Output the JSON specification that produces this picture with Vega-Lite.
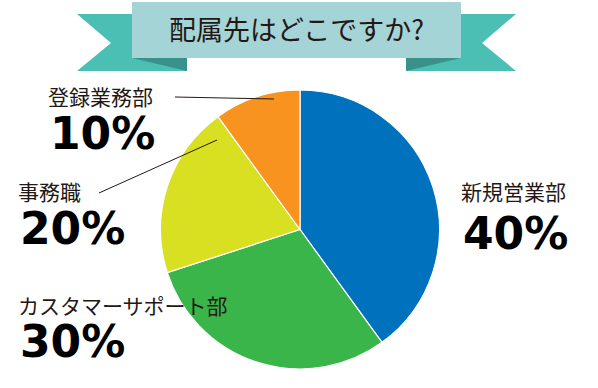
{
  "$schema": "https://vega.github.io/schema/vega-lite/v6.json",
  "width": 600,
  "height": 317,
  "autosize": {"type": "none"},
  "padding": {"top": 71, "left": 0, "right": 0, "bottom": 0},
  "background": "white",
  "config": {"view": {"stroke": null}},
  "datasets": {
    "slices": [
      {"name": "新規営業部", "value": 40},
      {"name": "カスタマーサポート部", "value": 30},
      {"name": "事務職", "value": 20},
      {"name": "登録業務部", "value": 10}
    ],
    "ribbon": [
      {"part": "tail", "side": "L", "y": 14, "x": 77, "x2": 187},
      {"part": "tail", "side": "L", "y": 43, "x": 111, "x2": 187},
      {"part": "tail", "side": "L", "y": 71, "x": 77, "x2": 187},
      {"part": "tail", "side": "R", "y": 14, "x": 406, "x2": 516},
      {"part": "tail", "side": "R", "y": 43, "x": 406, "x2": 482},
      {"part": "tail", "side": "R", "y": 71, "x": 406, "x2": 516},
      {"part": "fold", "side": "L", "y": 58, "x": 132, "x2": 187},
      {"part": "fold", "side": "L", "y": 71, "x": 187, "x2": 187},
      {"part": "fold", "side": "R", "y": 58, "x": 406, "x2": 461},
      {"part": "fold", "side": "R", "y": 71, "x": 406, "x2": 406}
    ],
    "band": [
      {"x": 132, "x2": 461, "y": 2, "y2": 58, "title": "配属先はどこですか?", "tx": 296.5, "ty": 40}
    ],
    "leaders": [
      {"x": 175, "y": 97, "x2": 274, "y2": 99},
      {"x": 99, "y": 193, "x2": 217, "y2": 140}
    ],
    "labels": [
      {"name": "登録業務部", "pct": "10%", "x": 48, "ny": 105, "py": 149},
      {"name": "事務職", "pct": "20%", "x": 18, "ny": 200, "py": 244},
      {"name": "カスタマーサポート部", "pct": "30%", "x": 18, "ny": 314, "py": 357},
      {"name": "新規営業部", "pct": "40%", "x": 461, "ny": 200, "py": 249}
    ]
  },
  "layer": [
    {
      "data": {"name": "ribbon"},
      "transform": [{"filter": "datum.part === 'tail'"}],
      "mark": {"type": "area", "orient": "horizontal", "color": "#4cbfb5", "opacity": 1},
      "encoding": {
        "y": {"field": "y", "type": "quantitative", "stack": null, "scale": {"type": "linear", "domain": [71, 388], "reverse": true, "nice": false, "zero": false}, "axis": null},
        "x": {"field": "x", "type": "quantitative", "stack": null, "scale": {"type": "linear", "domain": [0, 600], "nice": false, "zero": false}, "axis": null},
        "x2": {"field": "x2"},
        "detail": {"field": "side"}
      }
    },
    {
      "data": {"name": "ribbon"},
      "transform": [{"filter": "datum.part === 'fold'"}],
      "mark": {"type": "area", "orient": "horizontal", "color": "#3a918a", "opacity": 1},
      "encoding": {
        "y": {"field": "y", "type": "quantitative", "stack": null, "scale": {"type": "linear", "domain": [71, 388], "reverse": true, "nice": false, "zero": false}, "axis": null},
        "x": {"field": "x", "type": "quantitative", "stack": null, "scale": {"type": "linear", "domain": [0, 600], "nice": false, "zero": false}, "axis": null},
        "x2": {"field": "x2"},
        "detail": {"field": "side"}
      }
    },
    {
      "data": {"name": "band"},
      "mark": {"type": "rect", "color": "#a5d4d6"},
      "encoding": {
        "x": {"field": "x", "type": "quantitative", "scale": {"type": "linear", "domain": [0, 600], "nice": false, "zero": false}, "axis": null},
        "x2": {"field": "x2"},
        "y": {"field": "y", "type": "quantitative", "scale": {"type": "linear", "domain": [71, 388], "reverse": true, "nice": false, "zero": false}, "axis": null},
        "y2": {"field": "y2"}
      }
    },
    {
      "data": {"name": "band"},
      "mark": {"type": "text", "font": "Noto Sans CJK JP", "fontSize": 27, "color": "#231815", "align": "center", "baseline": "alphabetic"},
      "encoding": {
        "x": {"field": "tx", "type": "quantitative", "scale": {"type": "linear", "domain": [0, 600], "nice": false, "zero": false}, "axis": null},
        "y": {"field": "ty", "type": "quantitative", "scale": {"type": "linear", "domain": [71, 388], "reverse": true, "nice": false, "zero": false}, "axis": null},
        "text": {"field": "title"}
      }
    },
    {
      "data": {"name": "slices"},
      "mark": {"type": "arc", "outerRadius": 139.5, "stroke": "white", "strokeWidth": 1.2},
      "encoding": {
        "theta": {"field": "value", "type": "quantitative", "stack": true},
        "color": {
          "field": "name",
          "type": "nominal",
          "scale": {"domain": ["新規営業部", "カスタマーサポート部", "事務職", "登録業務部"], "range": ["#0071bc", "#39b54a", "#d9e021", "#f7931e"]},
          "legend": null
        },
        "order": {"field": "value", "sort": "descending"}
      }
    },
    {
      "data": {"name": "leaders"},
      "mark": {"type": "rule", "color": "#231815", "strokeWidth": 1},
      "encoding": {
        "x": {"field": "x", "type": "quantitative", "scale": {"type": "linear", "domain": [0, 600], "nice": false, "zero": false}, "axis": null},
        "x2": {"field": "x2"},
        "y": {"field": "y", "type": "quantitative", "scale": {"type": "linear", "domain": [71, 388], "reverse": true, "nice": false, "zero": false}, "axis": null},
        "y2": {"field": "y2"}
      }
    },
    {
      "data": {"name": "labels"},
      "mark": {"type": "text", "font": "Noto Sans CJK JP", "fontSize": 21, "color": "#231815", "align": "left", "baseline": "alphabetic"},
      "encoding": {
        "x": {"field": "x", "type": "quantitative", "scale": {"type": "linear", "domain": [0, 600], "nice": false, "zero": false}, "axis": null},
        "y": {"field": "ny", "type": "quantitative", "scale": {"type": "linear", "domain": [71, 388], "reverse": true, "nice": false, "zero": false}, "axis": null},
        "text": {"field": "name"}
      }
    },
    {
      "data": {"name": "labels"},
      "mark": {"type": "text", "font": "DejaVu Sans", "fontWeight": "bold", "fontSize": 44, "dx": 2, "color": "#000000", "align": "left", "baseline": "alphabetic"},
      "encoding": {
        "x": {"field": "x", "type": "quantitative", "scale": {"type": "linear", "domain": [0, 600], "nice": false, "zero": false}, "axis": null},
        "y": {"field": "py", "type": "quantitative", "scale": {"type": "linear", "domain": [71, 388], "reverse": true, "nice": false, "zero": false}, "axis": null},
        "text": {"field": "pct"}
      }
    }
  ]
}
